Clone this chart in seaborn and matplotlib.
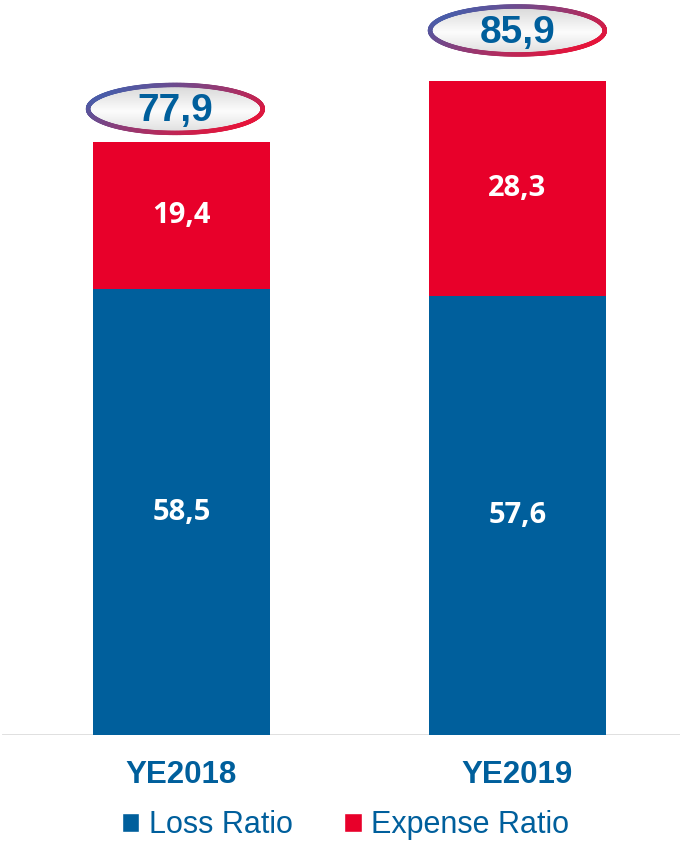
import numpy as np
import pandas as pd
import matplotlib
matplotlib.use("Agg")
import matplotlib.pyplot as plt
import seaborn as sns
from matplotlib.patches import Ellipse, Patch
from matplotlib.collections import LineCollection
from matplotlib.colors import to_rgb

# Data
years = ["YE2018", "YE2019"]
loss_ratio = [58.5, 57.6]
expense_ratio = [19.4, 28.3]
combined_ratio = [77.9, 85.9]
loss_labels = ["58,5", "57,6"]
expense_labels = ["19,4", "28,3"]
combined_labels = ["77,9", "85,9"]

BLUE = "#005F9C"
RED = "#E8002A"

df = pd.DataFrame({"Year": years, "Loss": loss_ratio,
                   "Expense": expense_ratio, "Combined": combined_ratio})

sns.set_style("white")
plt.rcParams["font.family"] = ["Liberation Sans", "DejaVu Sans"]

fig = plt.figure(figsize=(6.8, 8.5), dpi=100)
ax = fig.add_axes([0.003, 0.1353, 0.997, 0.8647])

# Stacked bars: total in red, loss ratio in blue on top of it
sns.barplot(data=df, x="Year", y="Combined", color=RED, saturation=1,
            width=0.527, linewidth=0, ax=ax)
sns.barplot(data=df, x="Year", y="Loss", color=BLUE, saturation=1,
            width=0.527, linewidth=0, ax=ax)

for i in range(len(years)):
    ax.text(i, loss_ratio[i] / 2, loss_labels[i], ha="center", va="center",
            color="white", fontsize=21, fontweight="bold", family="Open Sans")
    ax.text(i, loss_ratio[i] + expense_ratio[i] / 2, expense_labels[i],
            ha="center", va="center", color="white", fontsize=21,
            fontweight="bold", family="Open Sans")

ax.set_xlim(-0.534, 1.484)
ax.set_ylim(0, 96.5)

# Ellipse badges with gradient outline for the combined ratio
c1 = np.array(to_rgb("#4A5CA8"))
c2 = np.array(to_rgb("#E5143A"))
badge_pad = [4.3, 6.6]
ew, eh = 0.52, 6.3
grad = np.linspace(0, 1, 100)
gray = 0.99 - 0.12 * np.abs(grad - 0.55) / 0.45
img = np.repeat(np.stack([gray, gray, gray], axis=-1)[:, None, :], 2, axis=1)
for i in range(len(years)):
    cx, cy = i - 0.018 * (1 - i), combined_ratio[i] + badge_pad[i]
    clip = Ellipse((cx, cy), ew, eh, facecolor="none", edgecolor="none")
    ax.add_patch(clip)
    im = ax.imshow(img, extent=[cx - ew / 2, cx + ew / 2, cy - eh / 2, cy + eh / 2],
                   aspect="auto", origin="upper", zorder=3,
                   interpolation="bilinear")
    im.set_clip_path(clip)
    t = np.linspace(0, 2 * np.pi, 400)
    px = cx + ew / 2 * np.cos(t)
    py = cy + eh / 2 * np.sin(t)
    pts = np.column_stack([px, py]).reshape(-1, 1, 2)
    segs = np.concatenate([pts[:-1], pts[1:]], axis=1)
    s = (np.cos(t[:-1]) - 0.6 * np.sin(t[:-1]))
    s = (s - s.min()) / (s.max() - s.min())
    cols = c1[None, :] * (1 - s[:, None]) + c2[None, :] * s[:, None]
    lc = LineCollection(segs, colors=cols, linewidths=3.2, zorder=4,
                        capstyle="round", clip_on=False)
    ax.add_collection(lc)
    ax.text(cx, cy - 0.3, combined_labels[i], ha="center", va="center",
            color=BLUE, fontsize=28, fontweight="bold", zorder=5)

ax.set_xlim(-0.534, 1.484)
ax.set_ylim(0, 96.5)

ax.axhline(0, color="#DDDDDD", lw=2, zorder=0)
sns.despine(ax=ax, left=True, bottom=True)
ax.set_yticks([])
ax.set_xlabel("")
ax.set_ylabel("")
ax.tick_params(axis="x", length=0, pad=18)
for lab in ax.get_xticklabels():
    lab.set_fontsize(22.5)
    lab.set_fontweight("bold")
    lab.set_color(BLUE)

handles = [Patch(facecolor=BLUE, label="Loss Ratio"),
           Patch(facecolor=RED, label="Expense Ratio")]
fig.legend(handles=handles, loc="center", bbox_to_anchor=(0.508, 0.029),
           ncol=2, frameon=False, fontsize=22, labelcolor=BLUE,
           handlelength=0.58, handleheight=0.58, handletextpad=0.3,
           columnspacing=1.7)

fig.savefig("out.png", dpi=100)
